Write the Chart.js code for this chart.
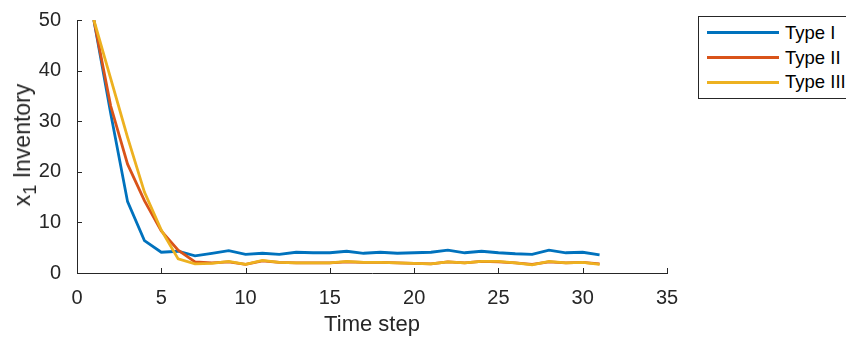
<!DOCTYPE html>
<html>
<head>
<meta charset="utf-8">
<script src="https://cdn.jsdelivr.net/npm/chart.js@4/dist/chart.umd.min.js"></script>
<style>
  html, body { margin: 0; padding: 0; background: #fff; }
  #wrap { position: relative; width: 846px; height: 338px; overflow: hidden; }
  #c { position: absolute; left: 0; top: 0; }
  #ytitle {
    position: absolute; left: 22px; top: 145px;
    transform: translate(-50%, -50%) rotate(-90deg);
    font-family: 'Liberation Sans', Arial, sans-serif; font-size: 23px; color: #262626;
    white-space: nowrap; line-height: 26px;
  }
  #ytitle sub { font-size: 18px; vertical-align: -6px; line-height: 0; }
  #legend {
    position: absolute; left: 698px; top: 16px; width: 170px; height: 83px;
    border: 1px solid #262626; background: #fff; box-sizing: border-box;
    font-family: 'Liberation Sans', Arial, sans-serif; font-size: 18.5px; color: #000;
  }
  .swatch { position: absolute; left: 8px; width: 72px; height: 3px; }
  .lbl { position: absolute; left: 86px; white-space: nowrap; line-height: 22px; height: 22px; }
</style>
</head>
<body>
<div id="wrap">
  <canvas id="c" width="846" height="338"></canvas>
  <div id="ytitle">x<sub>1</sub> Inventory</div>
  <div id="legend"></div>
</div>
<script>
const timeSteps = [1,2,3,4,5,6,7,8,9,10,11,12,13,14,15,16,17,18,19,20,21,22,23,24,25,26,27,28,29,30,31];
const typeI   = [50, 31.5, 14.1, 6.4, 4.1, 4.3, 3.4, 3.9, 4.4, 3.7, 3.9, 3.7, 4.1, 4.0, 4.0, 4.3, 3.9, 4.1, 3.9, 4.0, 4.1, 4.5, 4.0, 4.3, 4.0, 3.8, 3.7, 4.5, 4.0, 4.1, 3.6];
const typeII  = [50, 33, 21.5, 14.3, 8.3, 4.5, 2.2, 2.0, 2.2, 1.7, 2.4, 2.1, 2.0, 2.0, 2.0, 2.2, 2.1, 2.1, 2.0, 1.9, 1.8, 2.2, 2.0, 2.3, 2.2, 2.0, 1.7, 2.2, 2.0, 2.1, 1.8];
const typeIII = [50, 38.4, 26.8, 16.0, 8.5, 2.8, 1.8, 1.9, 2.3, 1.7, 2.5, 2.1, 2.0, 2.0, 2.0, 2.3, 2.1, 2.1, 2.0, 1.9, 1.8, 2.2, 2.0, 2.3, 2.3, 2.0, 1.6, 2.3, 2.0, 2.1, 1.7];
const seriesNames = ['Type I', 'Type II', 'Type III'];
const xTicks = [0, 5, 10, 15, 20, 25, 30, 35];
const yTicks = [0, 10, 20, 30, 40, 50];

const colors = ['#0072BD', '#D95319', '#EDB120'];
const allSeries = [typeI, typeII, typeIII];
const FONT = "'Liberation Sans', Arial, sans-serif";
const AXIS = '#262626';

const datasets = allSeries.map((vals, i) => ({
  label: seriesNames[i],
  data: vals.map((v, j) => ({ x: timeSteps[j], y: v })),
  borderColor: colors[i],
  backgroundColor: colors[i],
  borderWidth: 2.8,
  pointRadius: 0,
  tension: 0,
  fill: false,
  order: 3 - i
}));

const inwardTicks = {
  id: 'inwardTicks',
  afterDraw(chart) {
    const ctx = chart.ctx;
    const xs = chart.scales.x, ys = chart.scales.y;
    const L = 5;
    ctx.save();
    ctx.strokeStyle = AXIS;
    ctx.lineWidth = 1;
    ctx.beginPath();
    xTicks.forEach(t => {
      const px = Math.round(xs.getPixelForValue(t)) + 0.5;
      ctx.moveTo(px, ys.bottom);
      ctx.lineTo(px, ys.bottom - L);
    });
    yTicks.forEach(t => {
      const py = Math.round(ys.getPixelForValue(t)) + 0.5;
      ctx.moveTo(xs.left, py);
      ctx.lineTo(xs.left + L, py);
    });
    ctx.stroke();
    ctx.restore();
  }
};

new Chart(document.getElementById('c'), {
  type: 'line',
  data: { datasets },
  plugins: [inwardTicks],
  options: {
    responsive: false,
    animation: false,
    layout: { padding: { left: 0, top: 16, right: 179, bottom: 0 } },
    plugins: { legend: { display: false }, tooltip: { enabled: false } },
    scales: {
      x: {
        type: 'linear', min: 0, max: 35,
        afterFit(s) { s.height = 65; },
        afterBuildTicks(s) { s.ticks = xTicks.map(v => ({ value: v })); },
        grid: { display: false },
        border: { display: true, color: AXIS, width: 1 },
        ticks: { color: AXIS, font: { family: FONT, size: 20 }, padding: 5, maxRotation: 0 },
        title: { display: true, text: 'Time step', color: AXIS, font: { family: FONT, size: 22 }, padding: { top: 0, bottom: 0 } }
      },
      y: {
        type: 'linear', min: 0, max: 50,
        afterFit(s) { s.width = 77; },
        afterBuildTicks(s) { s.ticks = yTicks.map(v => ({ value: v })); },
        grid: { display: false },
        border: { display: true, color: AXIS, width: 1 },
        ticks: { color: AXIS, font: { family: FONT, size: 20 }, padding: 8 }
      }
    }
  }
});

const legend = document.getElementById('legend');
const rowCenters = [32.7, 57.7, 82];
seriesNames.forEach((name, i) => {
  const c = rowCenters[i] - 16 - 1;
  const sw = document.createElement('div');
  sw.className = 'swatch';
  sw.style.background = colors[i];
  sw.style.top = (c - 1.5) + 'px';
  const lb = document.createElement('div');
  lb.className = 'lbl';
  lb.style.top = (c - 11) + 'px';
  lb.textContent = name;
  legend.appendChild(sw);
  legend.appendChild(lb);
});
</script>
</body>
</html>
